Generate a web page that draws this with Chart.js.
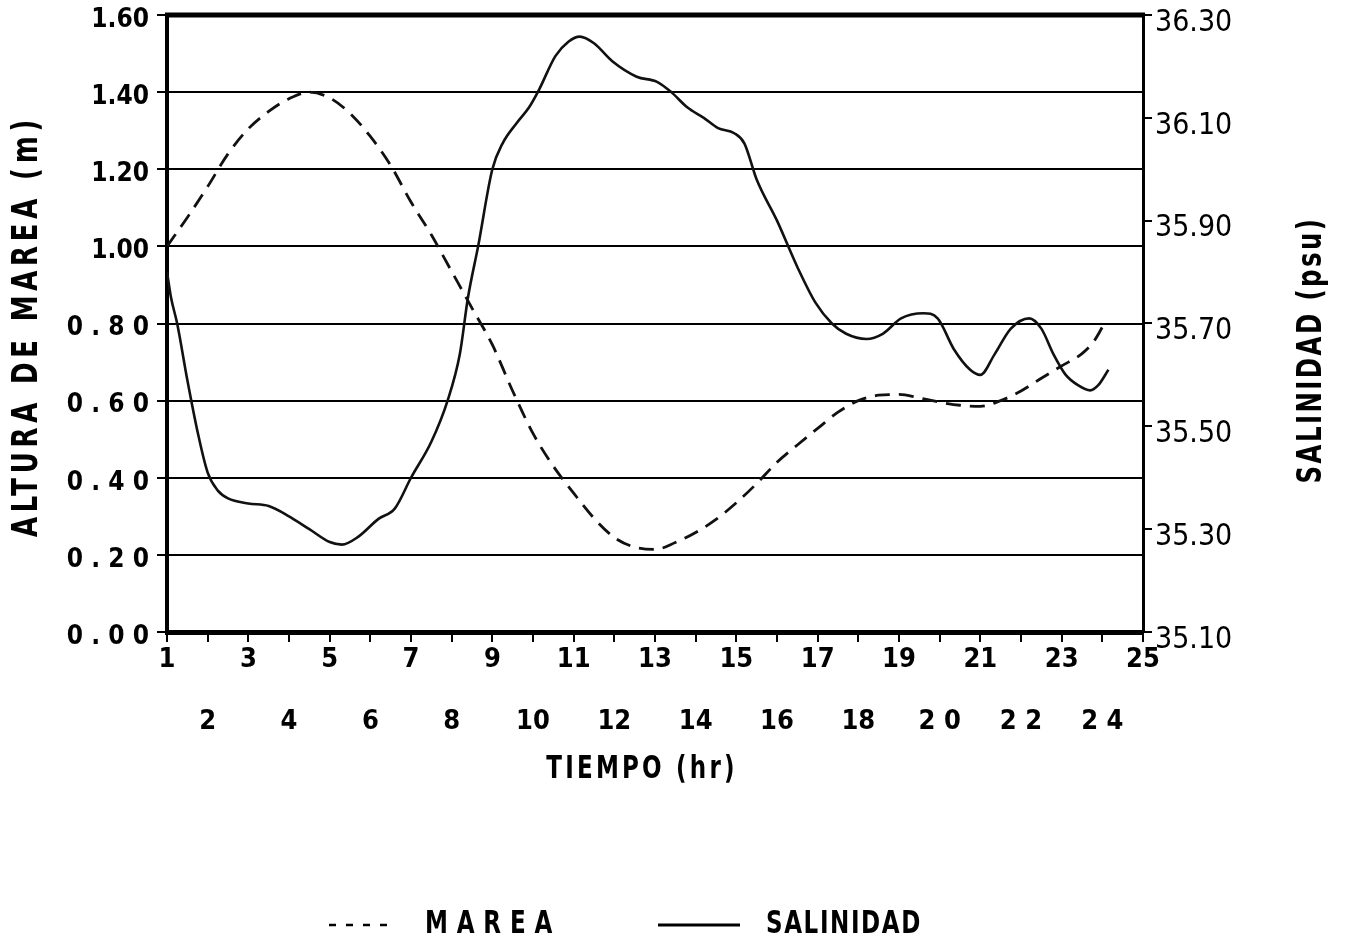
<!DOCTYPE html>
<html>
<head>
<meta charset="utf-8">
<title>Altura de marea y salinidad</title>
<script src="https://cdn.jsdelivr.net/npm/chart.js@4.4.1/dist/chart.umd.min.js"></script>
<style>
  html, body { margin: 0; padding: 0; background: #fff; }
  #wrap { width: 1347px; height: 947px; }
</style>
</head>
<body>
<div id="wrap"><canvas id="chart" width="1347" height="947"></canvas></div>
<script>
/* ── Datos ── */
var tideHours  = [1, 1.5, 2, 2.5, 3, 3.5, 4, 4.5, 5, 5.5, 6, 6.5, 7, 7.5, 8, 8.5, 9, 9.5, 10, 10.5,
                  11, 11.5, 12, 12.5, 13, 13.5, 14, 14.5, 15, 15.5, 16, 16.5, 17, 17.5, 18, 18.5,
                  19, 19.5, 20, 20.5, 21, 21.5, 22, 22.5, 23, 23.5, 23.8, 24.05];
var tideMeters = [1.00, 1.075, 1.155, 1.24, 1.305, 1.35, 1.383, 1.40, 1.385, 1.345, 1.285, 1.21, 1.115, 1.03,
                  0.935, 0.84, 0.745, 0.625, 0.515, 0.43, 0.36, 0.295, 0.245, 0.22, 0.214, 0.232, 0.258,
                  0.292, 0.335, 0.385, 0.44, 0.485, 0.528, 0.57, 0.60, 0.614, 0.616, 0.607, 0.596, 0.588,
                  0.585, 0.60, 0.625, 0.658, 0.69, 0.722, 0.755, 0.80];

var salinityHours = [1, 1.1, 1.25, 1.5, 1.75, 2, 2.25, 2.5, 3, 3.5, 4, 4.5, 5, 5.3, 5.7, 6.2, 6.6, 7, 7.5,
                     7.9, 8.2, 8.4, 8.65, 9, 9.25, 9.6, 9.9, 10.15, 10.55, 10.87, 11.15, 11.5, 11.95,
                     12.55, 13.05, 13.4, 13.8, 14.2, 14.55, 14.95, 15.2, 15.5, 16, 16.5, 16.95, 17.35,
                     17.7, 18.2, 18.6, 19.05, 19.6, 19.95, 20.35, 20.75, 21, 21.35, 21.75, 22.2, 22.5,
                     22.8, 23.1, 23.4, 23.7, 23.9, 24.15];
var salinityPsu   = [35.80, 35.75, 35.70, 35.59, 35.49, 35.41, 35.375, 35.36, 35.35, 35.345, 35.325, 35.30,
                     35.275, 35.27, 35.285, 35.32, 35.34, 35.40, 35.47, 35.55, 35.64, 35.75, 35.85, 36.00,
                     36.05, 36.09, 36.12, 36.155, 36.22, 36.248, 36.258, 36.245, 36.21, 36.18, 36.17, 36.15,
                     36.12, 36.10, 36.08, 36.07, 36.05, 35.98, 35.90, 35.81, 35.74, 35.70, 35.68, 35.67,
                     35.68, 35.71, 35.72, 35.71, 35.65, 35.61, 35.60, 35.64, 35.69, 35.71, 35.69, 35.64,
                     35.60, 35.58, 35.57, 35.58, 35.61];

var hourMin = 1, hourMax = 25;
var tideMin = 0, tideMax = 1.6, tideStep = 0.2;
var salMin = 35.1, salMax = 36.3, salStep = 0.2;

var family = "'Liberation Sans Narrow', 'DejaVu Sans Condensed', 'Roboto Condensed', 'DejaVu Sans', sans-serif";

function toPoints(xs, ys) {
    return xs.map(function (x, i) { return { x: x, y: ys[i] }; });
}

// texto estrecho: se comprime en horizontal para imitar la letra condensada del original
function narrowText(ctx, text, x, y, opts) {
    ctx.save();
    ctx.translate(x, y);
    if (opts.rotate) ctx.rotate(-Math.PI / 2);
    ctx.scale(opts.squeeze, 1);
    ctx.font = 'bold ' + opts.size + 'px ' + family;
    ctx.letterSpacing = opts.spacing + 'px';
    ctx.textAlign = opts.align || 'center';
    ctx.textBaseline = 'middle';
    ctx.fillStyle = '#000';
    ctx.fillText(text, 0, 0);
    ctx.restore();
}

var figureText = {
    id: 'figureText',
    afterDraw: function (chart) {
        var ctx = chart.ctx, area = chart.chartArea;
        ctx.save();
        ctx.strokeStyle = '#000';
        ctx.lineWidth = 5;
        ctx.beginPath();
        ctx.moveTo(area.left - 2, area.top);
        ctx.lineTo(area.right + 2, area.top);
        ctx.stroke();

        narrowText(ctx, 'ALTURA DE MAREA (m)', 28, 326, { rotate: true, size: 36, spacing: 6, squeeze: 0.8 });
        narrowText(ctx, 'SALINIDAD (psu)', 1312, 350, { rotate: true, size: 34, spacing: 3, squeeze: 0.8 });
        narrowText(ctx, 'TIEMPO (hr)', 642, 770, { size: 32, spacing: 4, squeeze: 0.8 });

        // leyenda
        var ly = 925;
        ctx.lineWidth = 2.5;
        ctx.setLineDash([7, 10]);
        ctx.beginPath();
        ctx.moveTo(329, ly);
        ctx.lineTo(392, ly);
        ctx.stroke();
        ctx.setLineDash([]);
        ctx.lineWidth = 3;
        ctx.beginPath();
        ctx.moveTo(658, ly);
        ctx.lineTo(740, ly);
        ctx.stroke();
        ctx.restore();

        narrowText(ctx, 'MAREA', 425, ly, { size: 32, spacing: 11, squeeze: 0.8, align: 'left' });
        narrowText(ctx, 'SALINIDAD', 766, ly, { size: 32, spacing: 2, squeeze: 0.8, align: 'left' });
    }
};

function noEdgePadding(s) {
    s.paddingTop = 0;
    s.paddingBottom = 0;
}

var ctx = document.getElementById('chart').getContext('2d');
var chart = new Chart(ctx, {
    type: 'line',
    data: {
        datasets: [{
            label: 'MAREA',
            data: toPoints(tideHours, tideMeters),
            yAxisID: 'y',
            borderColor: '#111',
            borderWidth: 2.8,
            borderDash: [15, 9],
            pointRadius: 0,
            cubicInterpolationMode: 'monotone',
            fill: false
        }, {
            label: 'SALINIDAD',
            data: toPoints(salinityHours, salinityPsu),
            yAxisID: 'y1',
            borderColor: '#111',
            borderWidth: 2.6,
            pointRadius: 0,
            cubicInterpolationMode: 'monotone',
            fill: false
        }]
    },
    options: {
        responsive: false,
        devicePixelRatio: 1,
        animation: false,
        layout: { padding: { top: 15, left: 0, right: 0, bottom: 150 } },
        plugins: { legend: { display: false }, tooltip: { enabled: false } },
        scales: {
            x: {
                type: 'linear',
                position: 'bottom',
                min: hourMin,
                max: hourMax,
                afterFit: function (s) { s.height = 165; },
                ticks: {
                    stepSize: 1,
                    autoSkip: false,
                    maxRotation: 0,
                    padding: 3,
                    color: '#000',
                    font: { family: family, size: 27, weight: 'bold', lineHeight: 1.14 },
                    callback: function (v) {
                        var s = String(v);
                        if (v >= 20 && v % 2 === 0) s = s.split('').join(' ');
                        return v % 2 === 1 ? [s, '', ''] : ['', '', s];
                    }
                },
                grid: { drawOnChartArea: false, tickLength: 10, color: '#000', lineWidth: 2 },
                border: { color: '#000', width: 5 }
            },
            y: {
                position: 'left',
                min: tideMin,
                max: tideMax,
                afterFit: function (s) { s.width = 167; noEdgePadding(s); },
                ticks: {
                    stepSize: tideStep,
                    padding: 8,
                    labelOffset: 5,
                    color: '#000',
                    font: { family: family, size: 26, weight: 'bold' },
                    callback: function (v) {
                        var s = v.toFixed(2);
                        return v < 1 ? s.split('').join(' ') : s;
                    }
                },
                grid: { color: '#000', lineWidth: 2, tickLength: 10 },
                border: { color: '#000', width: 4 }
            },
            y1: {
                position: 'right',
                min: salMin,
                max: salMax,
                afterFit: function (s) { s.width = 204; noEdgePadding(s); },
                ticks: {
                    stepSize: salStep,
                    padding: 3,
                    labelOffset: 8,
                    color: '#000',
                    font: { family: family, size: 30 },
                    callback: function (v) { return v.toFixed(2); }
                },
                grid: { drawOnChartArea: false, tickLength: 9, color: '#000', lineWidth: 2 },
                border: { color: '#000', width: 3 }
            }
        }
    },
    plugins: [figureText]
});
</script>
</body>
</html>
